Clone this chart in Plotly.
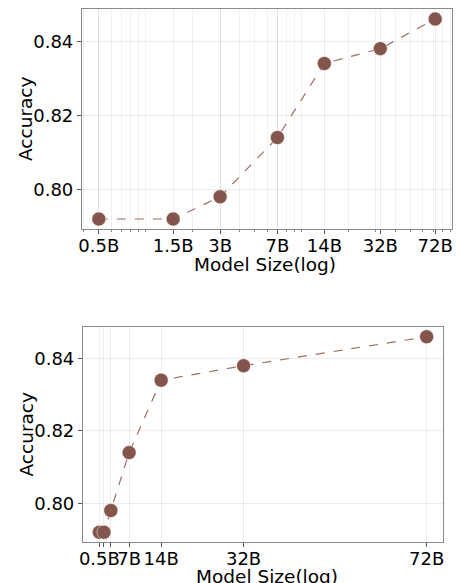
import math
import plotly.graph_objects as go

# ---- data ----
model_sizes = [0.5, 1.5, 3, 7, 14, 32, 72]
size_labels = ["0.5B", "1.5B", "3B", "7B", "14B", "32B", "72B"]
accuracy = [0.792, 0.792, 0.798, 0.814, 0.834, 0.838, 0.846]
bottom_labels = ["0.5B", "", "", "7B", "14B", "32B", "72B"]
y_ticks = [0.80, 0.82, 0.84]
y_labels = ["0.80", "0.82", "0.84"]
x_title = "Model Size(log)"
y_title = "Accuracy"

W, H = 456, 583
BROWN = "#83554c"
FONT = "DejaVu Sans"

def margin_range(vals, frac=0.05):
    lo, hi = min(vals), max(vals)
    d = (hi - lo) * frac
    return [lo - d, hi + d]

logx = [math.log10(v) for v in model_sizes]
xr_log = margin_range(logx)
xr_lin = margin_range(model_sizes)
yr = margin_range(accuracy)

minor_vals = [m * 10 ** e for e in (-1, 0, 1) for m in range(1, 10)]

fig = go.Figure()
for xa, ya in (("x", "y"), ("x2", "y2")):
    fig.add_trace(go.Scatter(
        x=model_sizes, y=accuracy, xaxis=xa, yaxis=ya, mode="lines+markers",
        line=dict(color="rgba(140,86,75,0.85)", width=1.2, dash="dash", shape="linear"),
        marker=dict(color=BROWN, size=14, line=dict(color="rgba(255,255,255,0.6)", width=0.8)),
        showlegend=False, cliponaxis=False,
    ))

grid = "rgba(0,0,0,0.07)"
spine = "#8a8a8a"
tickfont = dict(family=FONT, size=18, color="black")
titlefont = dict(family=FONT, size=18.5, color="black")

common_x = dict(showline=True, mirror=True, linecolor=spine, linewidth=1.2,
                ticks="outside", ticklen=4, tickcolor="#555", tickangle=0, automargin=False,
                showgrid=True, gridcolor=grid, gridwidth=1, zeroline=False,
                tickfont=tickfont, ticklabelstandoff=-4)
common_y = dict(showline=True, mirror=True, linecolor=spine, linewidth=1.2,
                ticks="outside", ticklen=4, tickcolor="#555", automargin=False,
                showgrid=True, gridcolor=grid, gridwidth=1, zeroline=False,
                tickfont=tickfont, tickvals=y_ticks, ticktext=y_labels, range=yr)

dom_x1 = [82 / W, 452 / W]
dom_y1 = [1 - 229 / H, 1 - 9 / H]
dom_x2 = [83 / W, 443 / W]
dom_y2 = [1 - 542 / H, 1 - 327 / H]

fig.update_layout(
    width=W, height=H, margin=dict(l=0, r=0, t=0, b=0),
    paper_bgcolor="white", plot_bgcolor="white",
    xaxis=dict(common_x, type="log", range=xr_log, tickvals=model_sizes, ticktext=size_labels,
               domain=dom_x1, anchor="y",
               minor=dict(tickvals=minor_vals, showgrid=True, gridcolor="rgba(0,0,0,0.05)",
                          ticks="outside", ticklen=2, tickcolor="#888")),
    yaxis=dict(common_y, domain=dom_y1, anchor="x"),
    xaxis2=dict(common_x, type="linear", range=xr_lin, tickvals=model_sizes, ticktext=bottom_labels,
                domain=dom_x2, anchor="y2"),
    yaxis2=dict(common_y, domain=dom_y2, anchor="x2"),
)

ann = dict(xref="paper", yref="paper", showarrow=False, font=titlefont,
           xanchor="center", yanchor="middle")
fig.add_annotation(ann, text=x_title, x=265 / W, y=1 - 264 / H)
fig.add_annotation(ann, text=y_title, x=25 / W, y=(dom_y1[0] + dom_y1[1]) / 2, textangle=-90)
fig.add_annotation(ann, text=x_title, x=267 / W, y=1 - 576 / H)
fig.add_annotation(ann, text=y_title, x=26 / W, y=(dom_y2[0] + dom_y2[1]) / 2, textangle=-90)

fig.write_html("out.html", config={"displayModeBar": False},
               post_script="document.body.style.margin='0';document.body.style.overflow='hidden';")
